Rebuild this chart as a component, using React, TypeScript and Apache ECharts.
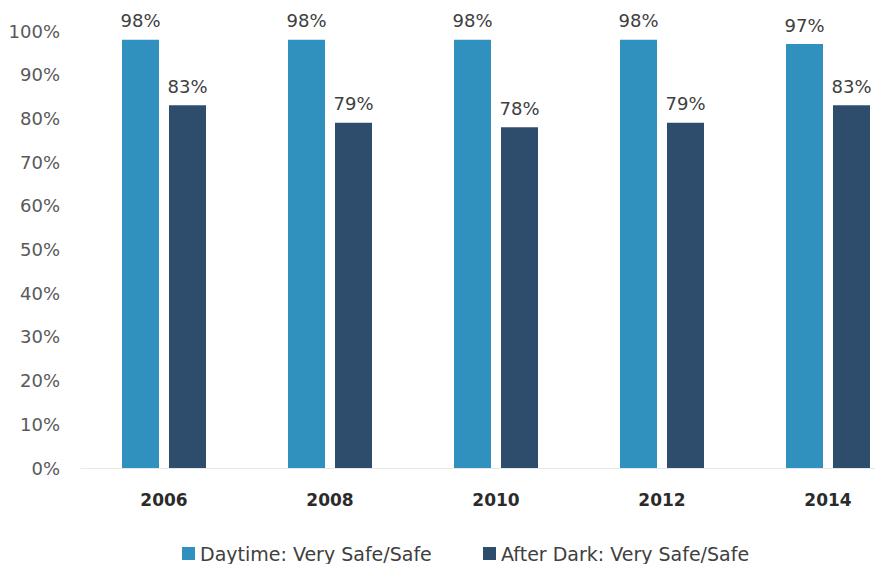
import React, { useEffect, useRef } from "react";
import * as echarts from "echarts";

const categories = ["2006", "2008", "2010", "2012", "2014"];
const daytime = [98, 98, 98, 98, 97];
const afterDark = [83, 79, 78, 79, 83];
const seriesNames = ["Daytime: Very Safe/Safe", "After Dark: Very Safe/Safe"];

const FONT = "DejaVu Sans";

export default function App() {
  const ref = useRef<HTMLDivElement>(null);
  useEffect(() => {
    document.body.style.margin = "0";
    const chart = echarts.init(ref.current!, null, { renderer: "svg" });
    const label = {
      show: true,
      position: "top" as const,
      distance: 10,
      formatter: "{c}%",
      color: "#404040",
      fontSize: 18,
      fontFamily: FONT,
    };
    const legendCommon = {
      top: 539,
      padding: 5,
      itemWidth: 13,
      itemHeight: 13,
      itemGap: 8,
      icon: "rect",
      textStyle: { fontSize: 19, color: "#404040", fontFamily: FONT },
    };
    chart.setOption({
      animation: false,
      backgroundColor: "#ffffff",
      textStyle: { fontFamily: FONT },
      grid: {
        left: 81,
        width: 830,
        top: 31,
        bottom: 96,
        containLabel: false,
        outerBoundsMode: "none",
      },
      legend: [
        { ...legendCommon, left: 177, data: [seriesNames[0]] },
        { ...legendCommon, left: 478, data: [seriesNames[1]] },
      ],
      xAxis: {
        type: "category",
        data: categories,
        axisLine: { show: true, lineStyle: { color: "#e8e8e8", width: 1 } },
        axisTick: { show: false },
        axisLabel: {
          margin: 23,
          fontSize: 17,
          fontWeight: "bold",
          color: "#2b2b2b",
          fontFamily: FONT,
        },
      },
      yAxis: {
        type: "value",
        min: 0,
        max: 100,
        interval: 10,
        splitLine: { show: false },
        axisLine: { show: false },
        axisTick: { show: false },
        axisLabel: {
          formatter: "{value}%",
          margin: 21,
          fontSize: 18,
          color: "#595959",
          fontFamily: FONT,
        },
      },
      series: [
        {
          name: seriesNames[0],
          type: "bar",
          data: daytime,
          barWidth: 37,
          barGap: "27%",
          itemStyle: { color: "#3090be" },
          label,
        },
        {
          name: seriesNames[1],
          type: "bar",
          data: afterDark,
          barWidth: 37,
          itemStyle: { color: "#2e4d6d" },
          label,
        },
      ],
    });
    return () => chart.dispose();
  }, []);
  return <div ref={ref} style={{ width: 875, height: 564 }} />;
}
